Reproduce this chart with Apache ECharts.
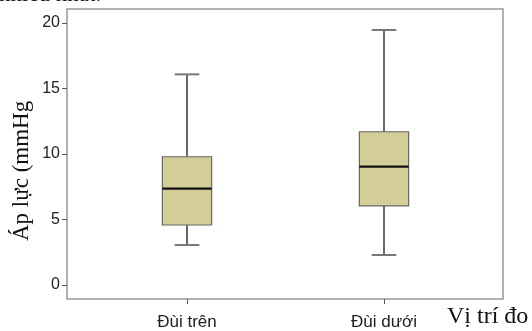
<!DOCTYPE html>
<html>
<head>
<meta charset="utf-8">
<script src="https://cdn.jsdelivr.net/npm/echarts@6/dist/echarts.min.js"></script>
<style>
  html, body { margin: 0; padding: 0; background: #fff; }
  #chart { width: 532px; height: 331px; }
</style>
</head>
<body>
<div id="chart"></div>
<script>
// Pressure measured at two thigh positions (mmHg): whisker ends, quartiles, median
const categories = ['Đùi trên', 'Đùi dưới'];
const whiskerLow = [3.05, 2.29];
const q1 = [4.58, 6.04];
const median = [7.35, 9.04];
const q3 = [9.79, 11.70];
const whiskerHigh = [16.08, 19.47];
const yTicks = [0, 5, 10, 15, 20];

const yMin = -1.07, yMax = 21.07;

const boxData = categories.map((c, i) => [i, whiskerLow[i], q1[i], median[i], q3[i], whiskerHigh[i]]);

function renderBox(params, api) {
  const idx = api.value(0);
  const pLow = api.coord([idx, api.value(1)]);
  const pQ1 = api.coord([idx, api.value(2)]);
  const pMed = api.coord([idx, api.value(3)]);
  const pQ3 = api.coord([idx, api.value(4)]);
  const pHigh = api.coord([idx, api.value(5)]);
  const band = api.size([1, 0])[0];
  const boxW = band * 0.25;
  const capW = boxW * 0.5;
  const x = pMed[0];
  return {
    type: 'group',
    children: [
      { type: 'line', shape: { x1: x, y1: pHigh[1], x2: x, y2: pQ3[1] }, style: { stroke: '#333', lineWidth: 1.5 } },
      { type: 'line', shape: { x1: x, y1: pQ1[1], x2: x, y2: pLow[1] }, style: { stroke: '#333', lineWidth: 1.5 } },
      { type: 'line', shape: { x1: x - capW / 2, y1: pHigh[1], x2: x + capW / 2, y2: pHigh[1] }, style: { stroke: '#777', lineWidth: 2 } },
      { type: 'line', shape: { x1: x - capW / 2, y1: pLow[1], x2: x + capW / 2, y2: pLow[1] }, style: { stroke: '#777', lineWidth: 2 } },
      { type: 'rect', shape: { x: x - boxW / 2, y: pQ3[1], width: boxW, height: pQ1[1] - pQ3[1] }, style: { fill: '#d3cd98', stroke: '#666', lineWidth: 1.2 } },
      { type: 'line', shape: { x1: x - boxW / 2, y1: pMed[1], x2: x + boxW / 2, y2: pMed[1] }, style: { stroke: '#111', lineWidth: 2.2 } }
    ]
  };
}

const chart = echarts.init(document.getElementById('chart'), null, { renderer: 'canvas' });
chart.setOption({
  animation: false,
  backgroundColor: '#fff',
  grid: [
    { left: 67, right: 29, top: 9, bottom: 32, show: true, borderColor: '#999', borderWidth: 1.5, backgroundColor: 'transparent' },
    { left: 88.5, right: 49.5, top: 9, bottom: 32 }
  ],
  xAxis: [
    { gridIndex: 0, type: 'value', min: 0, max: 1, show: false },
    {
      gridIndex: 1, type: 'category', data: categories, position: 'bottom',
      axisLine: { show: false, onZero: false },
      axisTick: { show: true, alignWithLabel: true, length: 5, lineStyle: { color: '#555', width: 1 } },
      axisLabel: { color: '#222', fontFamily: 'Liberation Sans', fontSize: 17, margin: 15 },
      splitLine: { show: false }
    }
  ],
  yAxis: [
    {
      gridIndex: 0, type: 'value', min: yMin, max: yMax,
      axisLine: { show: false },
      axisTick: { show: true, length: 5, customValues: yTicks, lineStyle: { color: '#555', width: 1 } },
      axisLabel: { customValues: yTicks, color: '#222', fontFamily: 'Liberation Sans', fontSize: 16, margin: 7 },
      splitLine: { show: false }
    },
    { gridIndex: 1, type: 'value', min: yMin, max: yMax, show: false }
  ],
  graphic: [
    {
      type: 'text', x: 10, y: 241,
      rotation: Math.PI / 2,
      style: { text: 'Áp lực (mmHg', fill: '#111', font: '23px "Liberation Serif"' }
    },
    {
      type: 'text', x: 447, y: 305,
      style: { text: 'Vị trí đo', fill: '#111', font: '24px "Liberation Serif"' }
    },
    {
      type: 'text', x: -1, y: -16.5,
      style: { text: 'nhiều nhất.', fill: '#111', font: '23px "Liberation Serif"' }
    }
  ],
  series: [
    {
      type: 'custom',
      xAxisIndex: 1, yAxisIndex: 1,
      renderItem: renderBox,
      encode: { x: 0, y: [1, 2, 3, 4, 5] },
      data: boxData
    }
  ]
});
</script>
</body>
</html>
